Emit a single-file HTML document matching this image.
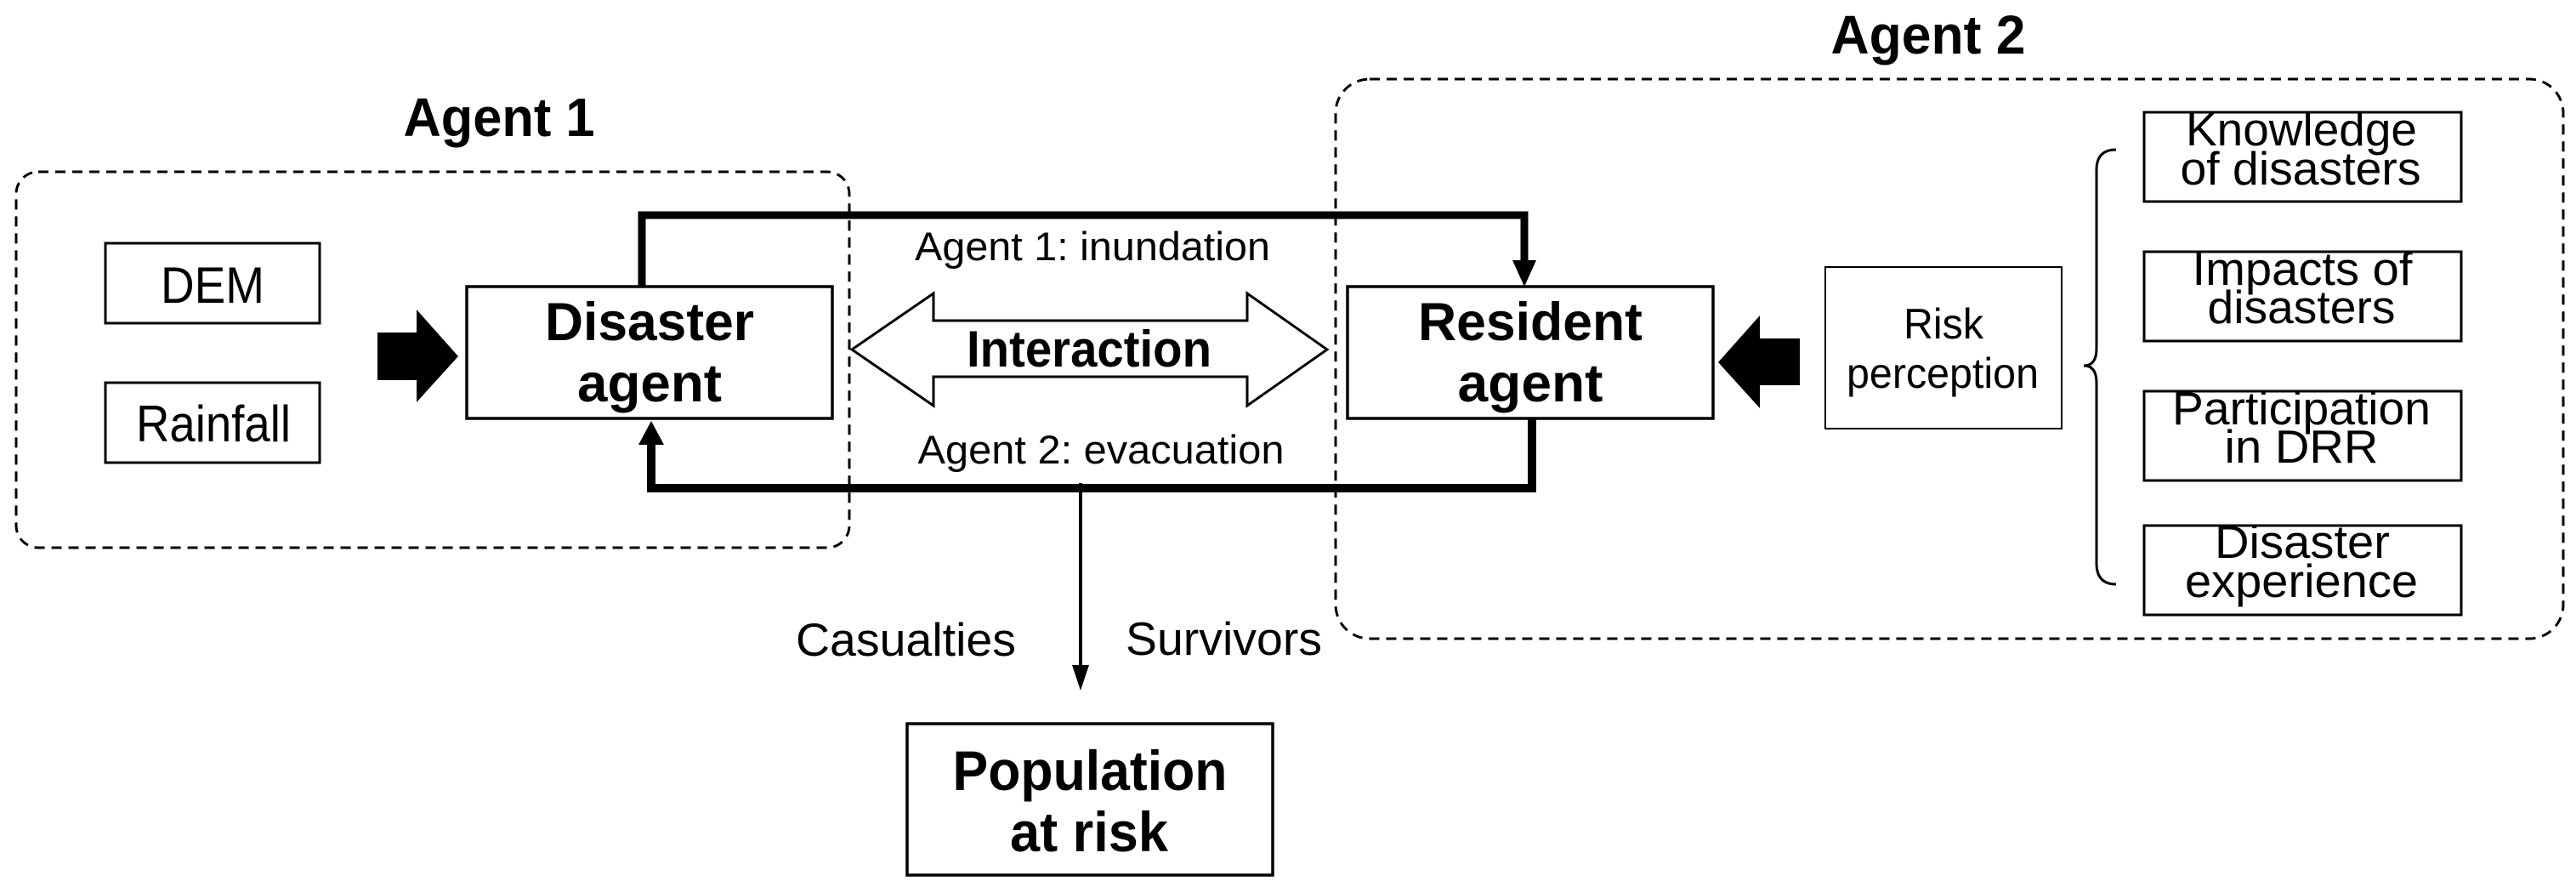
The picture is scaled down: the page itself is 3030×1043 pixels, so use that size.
<!DOCTYPE html>
<html><head><meta charset="utf-8"><style>html,body{margin:0;padding:0;background:#fff}svg{display:block}</style></head><body>
<svg width="3030" height="1043" viewBox="0 0 3030 1043" xmlns="http://www.w3.org/2000/svg" font-family="'Liberation Sans', Arial, sans-serif">
<rect x="19" y="202" width="980" height="442" rx="26" fill="none" stroke="#000" stroke-width="3" stroke-dasharray="12,8"/>
<rect x="1571" y="93" width="1444" height="658" rx="40" fill="none" stroke="#000" stroke-width="3" stroke-dasharray="12,8"/>
<text x="587" y="160" font-size="64" font-weight="bold" text-anchor="middle" textLength="225" lengthAdjust="spacingAndGlyphs">Agent 1</text>
<text x="2268" y="63" font-size="64" font-weight="bold" text-anchor="middle" textLength="229" lengthAdjust="spacingAndGlyphs">Agent 2</text>
<rect x="124" y="286" width="252" height="94" fill="#fff" stroke="#000" stroke-width="3"/>
<text x="250" y="356" font-size="60" text-anchor="middle" textLength="122" lengthAdjust="spacingAndGlyphs">DEM</text>
<rect x="124" y="450" width="252" height="94" fill="#fff" stroke="#000" stroke-width="3"/>
<text x="251" y="519" font-size="60" text-anchor="middle" textLength="182" lengthAdjust="spacingAndGlyphs">Rainfall</text>
<polygon points="444,391 490,391 490,364 539,419 490,473 490,447 444,447" fill="#000"/>
<polyline points="755,337 755,253 1793,253 1793,310" fill="none" stroke="#000" stroke-width="9"/>
<polygon points="1779,306 1807,306 1793,337" fill="#000"/>
<polyline points="766,522 766,574 1802,574 1802,492" fill="none" stroke="#000" stroke-width="10"/>
<polygon points="751,523 781,523 766,495" fill="#000"/>
<line x1="1271" y1="568" x2="1271" y2="790" stroke="#000" stroke-width="4"/>
<polygon points="1261,782 1281,782 1271,812" fill="#000"/>
<rect x="549" y="337" width="430" height="155" fill="#fff" stroke="#000" stroke-width="3.5"/>
<text x="764" y="400" font-size="63" font-weight="bold" text-anchor="middle" textLength="246" lengthAdjust="spacingAndGlyphs">Disaster</text>
<text x="764" y="472" font-size="63" font-weight="bold" text-anchor="middle" textLength="170" lengthAdjust="spacingAndGlyphs">agent</text>
<rect x="1585" y="337" width="430" height="155" fill="#fff" stroke="#000" stroke-width="3.5"/>
<text x="1800" y="400" font-size="63" font-weight="bold" text-anchor="middle" textLength="264" lengthAdjust="spacingAndGlyphs">Resident</text>
<text x="1800" y="472" font-size="63" font-weight="bold" text-anchor="middle" textLength="171" lengthAdjust="spacingAndGlyphs">agent</text>
<polygon points="1002,411 1098,345 1098,377 1467,377 1467,345 1561,411 1467,477 1467,443 1098,443 1098,477" fill="#fff" stroke="#000" stroke-width="3"/>
<text x="1281" y="431" font-size="60" font-weight="bold" text-anchor="middle" textLength="288" lengthAdjust="spacingAndGlyphs">Interaction</text>
<text x="1285" y="306" font-size="47" text-anchor="middle" textLength="418" lengthAdjust="spacingAndGlyphs">Agent 1: inundation</text>
<text x="1295" y="545" font-size="47" text-anchor="middle" textLength="431" lengthAdjust="spacingAndGlyphs">Agent 2: evacuation</text>
<text x="1195" y="771" font-size="55" text-anchor="end" textLength="259" lengthAdjust="spacingAndGlyphs">Casualties</text>
<text x="1324" y="770" font-size="55" textLength="231" lengthAdjust="spacingAndGlyphs">Survivors</text>
<rect x="1067" y="851" width="430" height="178" fill="#fff" stroke="#000" stroke-width="3.5"/>
<text x="1282" y="929" font-size="66" font-weight="bold" text-anchor="middle" textLength="323" lengthAdjust="spacingAndGlyphs">Population</text>
<text x="1281" y="1001" font-size="66" font-weight="bold" text-anchor="middle" textLength="186" lengthAdjust="spacingAndGlyphs">at risk</text>
<polygon points="2117,398 2070,398 2070,371 2021,426 2070,480 2070,453 2117,453" fill="#000"/>
<rect x="2147" y="314" width="278" height="190" fill="#fff" stroke="#000" stroke-width="2"/>
<text x="2286" y="398" font-size="50" text-anchor="middle" textLength="94" lengthAdjust="spacingAndGlyphs">Risk</text>
<text x="2285" y="456" font-size="50" text-anchor="middle" textLength="226" lengthAdjust="spacingAndGlyphs">perception</text>
<path d="M2489,176 Q2466,176 2466,200 L2466,410 Q2466,430 2451,430 Q2466,430 2466,450 L2466,662 Q2466,687 2489,687" fill="none" stroke="#000" stroke-width="3"/>
<g stroke="#000" stroke-width="3" fill="#fff">
<rect x="2522" y="132" width="373" height="105"/>
<rect x="2522" y="296" width="373" height="105"/>
<rect x="2522" y="460" width="373" height="105"/>
<rect x="2522" y="618" width="373" height="105"/>
</g>
<g font-size="55" text-anchor="middle">
<text x="2707" y="171" textLength="272" lengthAdjust="spacingAndGlyphs">Knowledge</text>
<text x="2706" y="217" textLength="283" lengthAdjust="spacingAndGlyphs">of disasters</text>
<text x="2708" y="335" textLength="259" lengthAdjust="spacingAndGlyphs">Impacts of</text>
<text x="2707" y="380" textLength="221" lengthAdjust="spacingAndGlyphs">disasters</text>
<text x="2707" y="499" textLength="304" lengthAdjust="spacingAndGlyphs">Participation</text>
<text x="2707" y="544" textLength="181" lengthAdjust="spacingAndGlyphs">in DRR</text>
<text x="2708" y="656" textLength="206" lengthAdjust="spacingAndGlyphs">Disaster</text>
<text x="2707" y="702" textLength="274" lengthAdjust="spacingAndGlyphs">experience</text>
</g>
</svg>
</body></html>
